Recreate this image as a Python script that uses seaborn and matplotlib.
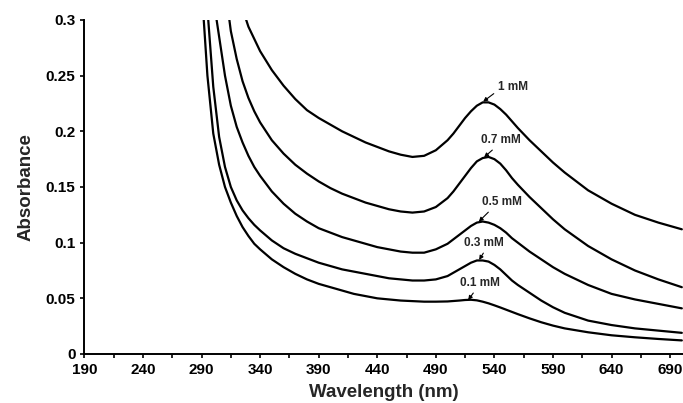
import matplotlib
matplotlib.use('Agg')
import matplotlib.pyplot as plt
import numpy as np
import pandas as pd
import seaborn as sns

# Dados
wavelength = [290, 295, 300, 305, 310, 315, 320, 325, 330, 335, 340,
              350, 360, 370, 380, 390, 400, 410, 420, 430, 440, 450, 460, 470, 480, 490, 500,
              505, 510, 515, 520, 525, 530, 535, 540, 545, 550, 555, 560,
              570, 580, 590, 600, 620, 640, 660, 680, 700]

abs_01 = [0.33, 0.25, 0.198, 0.170, 0.150, 0.136, 0.124, 0.114, 0.106, 0.099, 0.094,
          0.085, 0.078, 0.072, 0.067, 0.063, 0.060, 0.057, 0.054, 0.052, 0.050, 0.049, 0.048, 0.0475, 0.047, 0.047, 0.0472,
          0.0476, 0.048, 0.0485, 0.0487, 0.0482, 0.047, 0.0455, 0.0437, 0.0418, 0.0398, 0.0378, 0.0358,
          0.032, 0.0285, 0.0255, 0.023, 0.0195, 0.0168, 0.015, 0.0135, 0.0122]
abs_03 = [0.40, 0.31, 0.24, 0.195, 0.168, 0.150, 0.138, 0.129, 0.122, 0.116, 0.111,
          0.102, 0.095, 0.090, 0.086, 0.082, 0.079, 0.076, 0.074, 0.072, 0.070, 0.068, 0.067, 0.066, 0.066, 0.067, 0.070,
          0.073, 0.076, 0.079, 0.082, 0.084, 0.084, 0.083, 0.080, 0.076, 0.071, 0.066, 0.062,
          0.055, 0.048, 0.042, 0.037, 0.030, 0.026, 0.023, 0.021, 0.019]
abs_05 = [0.45, 0.37, 0.32, 0.285, 0.250, 0.223, 0.204, 0.190, 0.178, 0.168, 0.160,
          0.146, 0.135, 0.126, 0.119, 0.113, 0.109, 0.105, 0.102, 0.099, 0.096, 0.094, 0.092, 0.091, 0.091, 0.094, 0.099,
          0.103, 0.107, 0.111, 0.115, 0.118, 0.119, 0.118, 0.116, 0.113, 0.109, 0.104, 0.100,
          0.092, 0.085, 0.078, 0.072, 0.062, 0.054, 0.049, 0.045, 0.041]
abs_07 = [0.60, 0.50, 0.43, 0.37, 0.33, 0.29, 0.265, 0.245, 0.230, 0.218, 0.208,
          0.192, 0.180, 0.170, 0.162, 0.155, 0.149, 0.144, 0.140, 0.136, 0.133, 0.130, 0.128, 0.127, 0.128, 0.132, 0.140,
          0.146, 0.153, 0.160, 0.167, 0.173, 0.176, 0.177, 0.175, 0.171, 0.165, 0.158, 0.152,
          0.141, 0.131, 0.121, 0.112, 0.097, 0.085, 0.075, 0.067, 0.060]
abs_1 = [0.80, 0.68, 0.57, 0.49, 0.42, 0.37, 0.33, 0.310, 0.294, 0.283, 0.272,
         0.255, 0.241, 0.229, 0.219, 0.212, 0.206, 0.200, 0.195, 0.190, 0.186, 0.182, 0.179, 0.177, 0.178, 0.183, 0.192,
         0.198, 0.205, 0.212, 0.218, 0.223, 0.226, 0.226, 0.224, 0.220, 0.215, 0.209, 0.203,
         0.192, 0.182, 0.172, 0.163, 0.147, 0.135, 0.125, 0.118, 0.112]

series_labels = ['0.1 mM', '0.3 mM', '0.5 mM', '0.7 mM', '1 mM']
# centro do rotulo e ponta da seta - label centre and arrow tip
label_xy = [(527.8, 0.0641), (531.2, 0.1000), (546.3, 0.1366), (545.7, 0.1923), (556.0, 0.2395)]
tip_xy = [(517.6, 0.0485), (527.0, 0.0845), (526.7, 0.1189), (531.2, 0.1767), (530.4, 0.2267)]
arrow_start = [(0.41, 0.0), (0.55, 0.0), (0.27, 0.0), (0.4, 0.0), (0.0, 0.25)]

sns.set_style('ticks')
plt.rcParams['font.family'] = ['Liberation Sans', 'DejaVu Sans']
plt.rcParams['font.weight'] = 'bold'

fig = plt.figure(figsize=(6.83, 4.03), dpi=100)
ax = fig.add_axes([0.1236, 0.1216, 0.8764, 0.8288])

for vals in [abs_01, abs_03, abs_05, abs_07, abs_1]:
    sns.lineplot(x=wavelength, y=vals, color='black', linewidth=1.6, ax=ax)

for lab, (tx, ty), (px, py), rp in zip(series_labels, label_xy, tip_xy, arrow_start):
    ax.annotate(lab, xy=(px, py), xytext=(tx, ty), ha='center', va='center',
                fontsize=8.5, fontweight='bold',
                arrowprops=dict(arrowstyle='-|>', color='black', lw=0.8,
                                mutation_scale=6, shrinkA=1, shrinkB=0, relpos=rp))

ax.set_xlim(190, 701)
ax.set_ylim(0, 0.3)
ax.set_xticks(range(190, 691, 50))
ax.set_xticks(range(215, 700, 50), minor=True)
ax.set_yticks([0, 0.05, 0.1, 0.15, 0.2, 0.25, 0.3])
ax.set_yticklabels(['0', '0.05', '0.1', '0.15', '0.2', '0.25', '0.3'])
ax.tick_params(axis='both', which='both', direction='out', length=3, width=1.2,
               labelsize=11, colors='black')
for t in ax.get_xticklabels() + ax.get_yticklabels():
    t.set_fontweight('bold')

ax.set_xlabel('Wavelength (nm)', fontsize=13.5, fontweight='bold', labelpad=5)
ax.set_ylabel('Absorbance', fontsize=13.5, fontweight='bold', labelpad=8)

sns.despine(ax=ax)
ax.spines['left'].set_linewidth(1.4)
ax.spines['bottom'].set_linewidth(1.4)
ax.spines['left'].set_color('black')
ax.spines['bottom'].set_color('black')

fig.savefig('out.png', dpi=100)
